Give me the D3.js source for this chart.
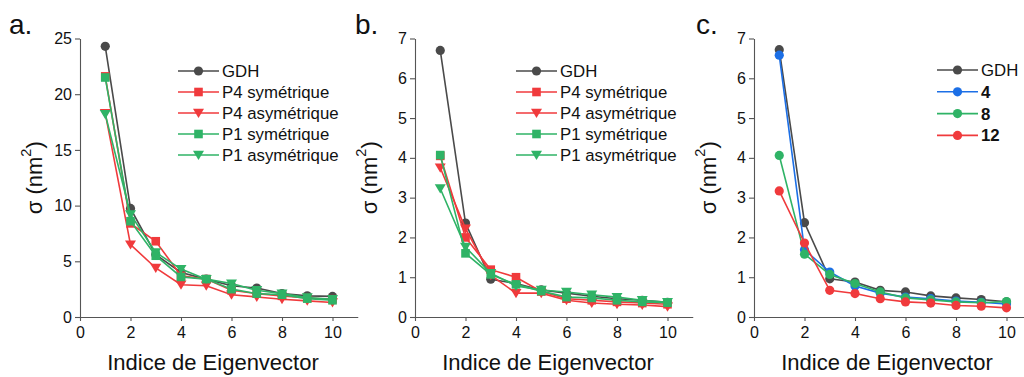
<!DOCTYPE html>
<html><head><meta charset="utf-8">
<script src="https://cdn.jsdelivr.net/npm/d3@7"></script>
<style>body{margin:0;background:#fff;} text{font-family:"Liberation Sans",Arial,sans-serif;}</style>
</head><body><svg id="c" width="1024" height="377"></svg>
<script>
const xIdx = [1,2,3,4,5,6,7,8,9,10];
const xTicks = [0,2,4,6,8,10];
const yTicksA = [0,5,10,15,20,25];
const yTicksBC = [0,1,2,3,4,5,6,7];

// Panel a
const aGDH   = [24.3, 9.75, 5.6, 4.0, 3.4, 2.8, 2.6, 2.1, 1.9, 1.85];
const aP4sym = [21.6, 8.4, 6.8, 3.7, 3.4, 2.4, 2.1, 1.9, 1.7, 1.6];
const aP4asy = [18.3, 6.5, 4.4, 2.9, 2.8, 2.0, 1.8, 1.6, 1.45, 1.3];
const aP1sym = [21.5, 8.6, 5.5, 3.6, 3.4, 2.5, 2.1, 2.0, 1.65, 1.5];
const aP1asy = [18.2, 9.2, 5.8, 4.3, 3.4, 3.0, 2.4, 2.1, 1.75, 1.6];
// Panel b
const bGDH   = [6.7, 2.36, 0.95, 0.84, 0.68, 0.6, 0.52, 0.46, 0.42, 0.37];
const bP4sym = [4.05, 2.0, 1.19, 1.0, 0.64, 0.46, 0.42, 0.38, 0.35, 0.32];
const bP4asy = [3.75, 2.22, 1.05, 0.6, 0.6, 0.42, 0.35, 0.32, 0.3, 0.26];
const bP1sym = [4.07, 1.6, 1.07, 0.82, 0.65, 0.5, 0.48, 0.42, 0.38, 0.36];
const bP1asy = [3.23, 1.76, 1.1, 0.78, 0.68, 0.63, 0.56, 0.5, 0.42, 0.37];
// Panel c
const cGDH = [6.72, 2.37, 0.96, 0.88, 0.67, 0.63, 0.53, 0.48, 0.44, 0.38];
const c4   = [6.58, 1.69, 1.13, 0.78, 0.6, 0.5, 0.46, 0.4, 0.37, 0.33];
const c8   = [4.06, 1.58, 1.07, 0.84, 0.63, 0.48, 0.43, 0.38, 0.36, 0.39];
const c12  = [3.17, 1.86, 0.67, 0.59, 0.46, 0.38, 0.35, 0.29, 0.27, 0.23];

const legA = ["GDH","P4 symétrique","P4 asymétrique","P1 symétrique","P1 asymétrique"];
const legC = ["GDH","4","8","12"];

const GRAY="#4a4a4a", RED="#f03a3c", GREEN="#2fb366", BLUE="#1c6fe6";
const FONT = "'Liberation Sans',Arial,sans-serif";

const svg = d3.select("#c");

function panel(cfg){
  const g = svg.append("g");
  const x = d3.scaleLinear().domain([0,11]).range([cfg.x0, cfg.x0 + 25.25*11]);
  const y = d3.scaleLinear().domain([0,cfg.ymax]).range([317, 38.5]);
  const ax = g.append("g").attr("transform",`translate(0,${y(0)})`)
    .call(d3.axisBottom(x).tickValues(xTicks).tickFormat(d3.format("d")).tickSize(4).tickPadding(3).tickSizeOuter(0));
  const ay = g.append("g").attr("transform",`translate(${x(0)},0)`)
    .call(d3.axisLeft(y).tickValues(cfg.yTicks).tickFormat(d3.format("d")).tickSize(5).tickPadding(3).tickSizeOuter(0));
  [ax,ay].forEach(a=>{
    a.attr("font-family",FONT);
    a.selectAll("path,line").attr("stroke","#555").attr("stroke-width",1.1);
    a.selectAll("text").attr("font-size",16).attr("fill","#111");
  });
  ax.selectAll("text").attr("dy","0.85em");
  // labels
  g.append("text").attr("x",x(0)+133).attr("y",370).attr("text-anchor","middle")
    .attr("font-size",22).attr("fill","#111").text("Indice de Eigenvector");
  const yl = g.append("text").attr("transform",`translate(${x(0)-46},${(y(0)+y(cfg.ymax))/2}) rotate(-90)`)
    .attr("text-anchor","middle").attr("dominant-baseline","central").attr("font-size",22).attr("fill","#111");
  yl.append("tspan").text("σ (nm");
  yl.append("tspan").attr("font-size",14.5).attr("dy",-8).text("2");
  yl.append("tspan").attr("dy",8).text(")");
  g.append("text").attr("x",cfg.lx).attr("y",34).attr("font-size",28).attr("fill","#111").text(cfg.label);

  const line = d3.line().x((d,i)=>x(xIdx[i])).y(d=>y(d));
  cfg.series.forEach(s=>{
    g.append("path").datum(s.v).attr("d",line).attr("fill","none")
      .attr("stroke",s.c).attr("stroke-width",1.6);
    drawMarkers(g, s.v.map((d,i)=>[x(xIdx[i]),y(d)]), s);
  });
  // legend
  cfg.series.forEach((s,i)=>{
    const ly = cfg.legY + i*cfg.legDy;
    const lx = x(0)+cfg.legX;
    g.append("line").attr("x1",lx).attr("x2",lx+41).attr("y1",ly).attr("y2",ly)
      .attr("stroke",s.c).attr("stroke-width",1.6);
    drawMarkers(g, [[lx+20.5,ly]], s);
    g.append("text").attr("x",lx+44).attr("y",ly).attr("dy","0.36em")
      .attr("font-size",16.8).attr("font-weight",cfg.boldNum && i>0 ? "bold":"normal")
      .attr("fill","#111").text(s.n);
  });
}

function drawMarkers(g, pts, s){
  pts.forEach(([px,py])=>{
    if(s.m==="circle") g.append("circle").attr("cx",px).attr("cy",py).attr("r",4.6).attr("fill",s.c);
    else if(s.m==="square") g.append("rect").attr("x",px-4.3).attr("y",py-4.3).attr("width",8.6).attr("height",8.6).attr("fill",s.c);
    else g.append("path").attr("d",`M${px-5.5},${py-4.2}L${px+5.5},${py-4.2}L${px},${py+5}Z`).attr("fill",s.c);
  });
}

panel({x0:80, ymax:25, yTicks:yTicksA, label:"a.", lx:9, legX:98, legY:71, legDy:21,
  series:[{n:legA[0],v:aGDH,c:GRAY,m:"circle"},{n:legA[1],v:aP4sym,c:RED,m:"square"},
          {n:legA[2],v:aP4asy,c:RED,m:"tri"},{n:legA[3],v:aP1sym,c:GREEN,m:"square"},
          {n:legA[4],v:aP1asy,c:GREEN,m:"tri"}]});
panel({x0:415, ymax:7, yTicks:yTicksBC, label:"b.", lx:355, legX:101, legY:71, legDy:21,
  series:[{n:legA[0],v:bGDH,c:GRAY,m:"circle"},{n:legA[1],v:bP4sym,c:RED,m:"square"},
          {n:legA[2],v:bP4asy,c:RED,m:"tri"},{n:legA[3],v:bP1sym,c:GREEN,m:"square"},
          {n:legA[4],v:bP1asy,c:GREEN,m:"tri"}]});
panel({x0:754, ymax:7, yTicks:yTicksBC, label:"c.", lx:696, legX:183, legY:70, legDy:21.8, boldNum:true,
  series:[{n:legC[0],v:cGDH,c:GRAY,m:"circle"},{n:legC[1],v:c4,c:BLUE,m:"circle"},
          {n:legC[2],v:c8,c:GREEN,m:"circle"},{n:legC[3],v:c12,c:RED,m:"circle"}]});
</script></body></html>
